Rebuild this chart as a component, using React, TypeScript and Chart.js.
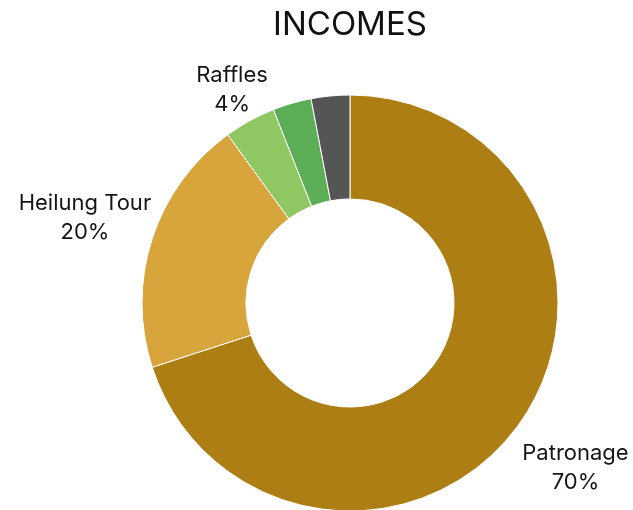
import React, { useEffect, useRef } from "react";
import { Chart, registerables } from "chart.js";

Chart.register(...registerables);

const TITLE = "INCOMES";
const categories = ["Patronage", "Heilung Tour", "Raffles", "", ""];
const values = [70, 20, 4, 3, 3];
const colors = ["#AD7E14", "#D8A43C", "#8FC862", "#5BAE56", "#555555"];

const FONT = "Inter, 'DejaVu Sans', sans-serif";

const labelPlugin = {
  id: "outerLabels",
  afterDraw(chart: any) {
    const { ctx } = chart;
    const meta = chart.getDatasetMeta(0);
    const total = values.reduce((a, b) => a + b, 0);
    ctx.save();
    // title
    ctx.fillStyle = "#111";
    ctx.font = `33px ${FONT}`;
    ctx.textAlign = "center";
    ctx.textBaseline = "alphabetic";
    const cx = (chart.chartArea.left + chart.chartArea.right) / 2;
    ctx.fillText(TITLE, cx, 35);
    const titleBottom = 45;

    ctx.font = `22px ${FONT}`;
    const lineH = 29;
    meta.data.forEach((arc: any, i: number) => {
      if (!categories[i]) return;
      const pct = Math.round((values[i] / total) * 100) + "%";
      const mid = (arc.startAngle + arc.endAngle) / 2;
      const dx = Math.cos(mid);
      const dy = Math.sin(mid);
      let r = arc.outerRadius * 1.34;
      const boxH = lineH + 18;
      let y = arc.y + dy * r;
      if (y - boxH / 2 < titleBottom + 20 && dy < 0) {
        y = titleBottom + 20 + boxH / 2;
        r = (y - arc.y) / dy;
      }
      const x = arc.x + dx * r;
      ctx.fillStyle = "#151515";
      ctx.textBaseline = "middle";
      ctx.fillText(categories[i], x, y - lineH / 2 + 1);
      ctx.fillText(pct, x, y + lineH / 2 + 1);
    });
    ctx.restore();
  },
};

export default function App() {
  const ref = useRef<HTMLCanvasElement | null>(null);
  useEffect(() => {
    if (!ref.current) return;
    const chart = new Chart(ref.current, {
      type: "doughnut",
      data: {
        labels: categories,
        datasets: [
          {
            data: values,
            backgroundColor: colors,
            borderColor: "#ffffff",
            borderWidth: 1,
            hoverOffset: 0,
          },
        ],
      },
      options: {
        responsive: false,
        animation: false,
        radius: 208,
        cutout: "50%",
        layout: { padding: { top: 96, bottom: 0, left: 142, right: 75 } },
        plugins: {
          legend: { display: false },
          title: { display: false },
          tooltip: { enabled: false },
        },
      },
      plugins: [labelPlugin],
    });
    return () => chart.destroy();
  }, []);
  return (
    <div style={{ position: "fixed", left: 0, top: 0, width: 633, height: 510, background: "#fff" }}>
      <canvas ref={ref} width={633} height={510} style={{ width: 633, height: 510 }} />
    </div>
  );
}
